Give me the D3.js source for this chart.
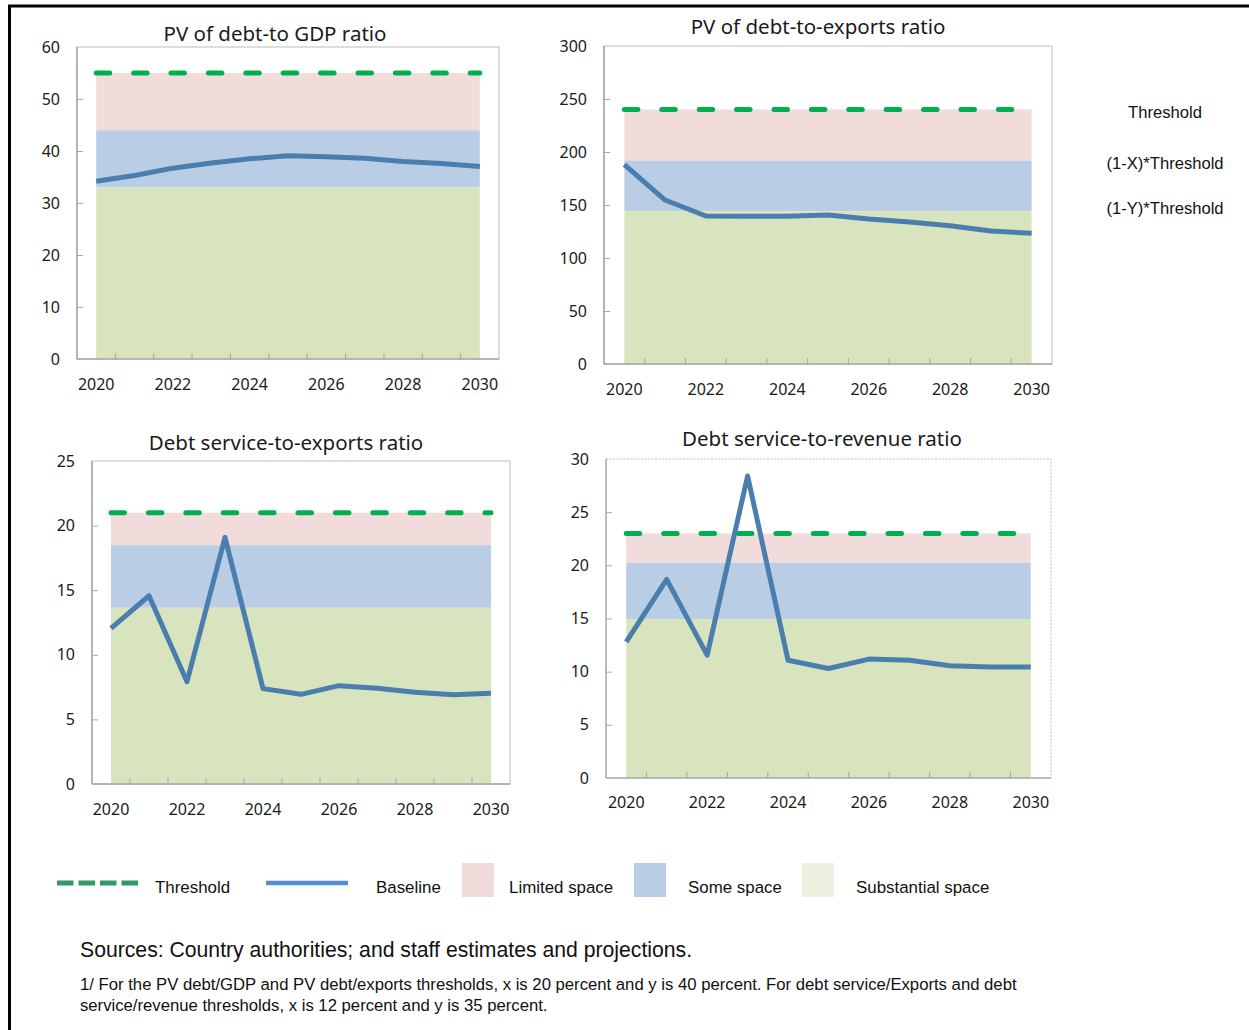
<!DOCTYPE html>
<html>
<head>
<meta charset="utf-8">
<script src="https://cdn.jsdelivr.net/npm/d3@7"></script>
<style>
  html, body { margin: 0; padding: 0; background: #fff; }
  svg { display: block; }
</style>
</head>
<body>
<svg id="chart" width="1249" height="1030"></svg>
<script>
// ---------------- DATA ----------------
const years = [2020, 2021, 2022, 2023, 2024, 2025, 2026, 2027, 2028, 2029, 2030];
const yearTicks = [2020, 2022, 2024, 2026, 2028, 2030];

const titles = [
  "PV of debt-to GDP ratio",
  "PV of debt-to-exports ratio",
  "Debt service-to-exports ratio",
  "Debt service-to-revenue ratio"
];

// Baselines
const pvGdpBaseline     = [34.2, 35.3, 36.7, 37.7, 38.5, 39.1, 38.9, 38.6, 38.0, 37.6, 37.0];
const pvExportsBaseline = [188, 154.7, 139.6, 139.5, 139.5, 140.6, 136.8, 134.0, 130.5, 125.5, 123.3];
const dsExportsBaseline = [12.05, 14.57, 7.92, 19.09, 7.38, 6.94, 7.61, 7.41, 7.10, 6.91, 7.02];
const dsRevenueBaseline = [12.8, 18.68, 11.55, 28.4, 11.08, 10.3, 11.18, 11.08, 10.55, 10.45, 10.45];

// Thresholds and band limits: [threshold, (1-X)*threshold, (1-Y)*threshold]
const pvGdpLimits     = [55, 44, 33];
const pvExportsLimits = [240, 192, 144];
const dsExportsLimits = [21, 18.48, 13.65];
const dsRevenueLimits = [23, 20.24, 14.95];

// Y axis ticks
const pvGdpTicks     = [0, 10, 20, 30, 40, 50, 60];
const pvExportsTicks = [0, 50, 100, 150, 200, 250, 300];
const dsExportsTicks = [0, 5, 10, 15, 20, 25];
const dsRevenueTicks = [0, 5, 10, 15, 20, 25, 30];

const sideLabels = ["Threshold", "(1-X)*Threshold", "(1-Y)*Threshold"];
const legendLabels = ["Threshold", "Baseline", "Limited space", "Some space", "Substantial space"];
const sourceText = "Sources: Country authorities; and staff estimates and projections.";
const noteLines = [
  "1/ For the PV debt/GDP and PV debt/exports thresholds, x is 20 percent and y is 40 percent. For debt service/Exports and debt",
  "service/revenue thresholds, x is 12 percent and y is 35 percent."
];

// ---------------- STYLE / LAYOUT ----------------
const C = {
  limited: "#f2dcdb",
  some: "#b9cde5",
  subst: "#d7e4bd",
  substLegend: "#ebf1de",
  threshold: "#00b050",
  baseline: "#4a7eae",
  legendThreshold: "#339966",
  legendBaseline: "#558ed5",
  axis: "#a6a6a6",
  border: "#c8c8c8"
};
const panelFont = "'Noto Sans', 'Open Sans', sans-serif";
const arialFont = "'Liberation Sans', Arial, sans-serif";

const panels = [
  { title: titles[0], base: pvGdpBaseline, lim: pvGdpLimits, ticks: pvGdpTicks,
    L: 77, R: 499, T: 47, B: 359, titleX: 275, titleY: 41, xLabY: 390, dotted: false },
  { title: titles[1], base: pvExportsBaseline, lim: pvExportsLimits, ticks: pvExportsTicks,
    L: 604, R: 1052, T: 46, B: 364, titleX: 818, titleY: 34, xLabY: 395, dotted: false },
  { title: titles[2], base: dsExportsBaseline, lim: dsExportsLimits, ticks: dsExportsTicks,
    L: 92, R: 510, T: 461, B: 784, titleX: 286, titleY: 450, xLabY: 815, dotted: false },
  { title: titles[3], base: dsRevenueBaseline, lim: dsRevenueLimits, ticks: dsRevenueTicks,
    L: 606, R: 1051, T: 459, B: 778, titleX: 822, titleY: 446, xLabY: 808, dotted: true }
];

const svg = d3.select("#chart");

// outer frame lines
svg.append("line").attr("x1", 8).attr("x2", 1249).attr("y1", 6).attr("y2", 6)
  .attr("stroke", "#000").attr("stroke-width", 3);
svg.append("line").attr("x1", 9.5).attr("x2", 9.5).attr("y1", 5).attr("y2", 1030)
  .attr("stroke", "#000").attr("stroke-width", 3);

panels.forEach(p => {
  const g = svg.append("g");
  const x = d3.scaleBand().domain(years).range([p.L, p.R]);
  const cx = d => x(d) + x.bandwidth() / 2;
  const ymax = p.ticks[p.ticks.length - 1];
  const y = d3.scaleLinear().domain([0, ymax]).range([p.B, p.T]);

  // border
  if (p.dotted) {
    g.append("path").attr("d", `M${p.L},${p.T}H${p.R}V${p.B}`)
      .attr("fill", "none").attr("stroke", "#bdbdbd").attr("stroke-width", 1)
      .attr("stroke-dasharray", "2,1.5");
  } else {
    g.append("rect").attr("x", p.L).attr("y", p.T).attr("width", p.R - p.L).attr("height", p.B - p.T)
      .attr("fill", "none").attr("stroke", C.border).attr("stroke-width", 1.2);
  }

  // bands
  const bands = [
    { lo: p.lim[1], hi: p.lim[0], c: C.limited },
    { lo: p.lim[2], hi: p.lim[1], c: C.some },
    { lo: 0, hi: p.lim[2], c: C.subst }
  ];
  bands.forEach(b => {
    g.append("path")
      .datum(years)
      .attr("fill", b.c)
      .attr("d", d3.area().x(d => cx(d)).y0(() => y(b.lo)).y1(() => y(b.hi)));
  });

  // threshold dashed
  g.append("path").datum(years)
    .attr("fill", "none").attr("stroke", C.threshold).attr("stroke-width", 5)
    .attr("stroke-linecap", "round").attr("stroke-dasharray", "13.5,23.9")
    .attr("d", d3.line().x(d => cx(d)).y(() => y(p.lim[0])));

  // axes
  const xAxis = d3.axisBottom(x).tickValues(yearTicks).tickSize(0).tickPadding(0);
  const xg = g.append("g").attr("transform", `translate(0,${p.B})`).call(xAxis);
  xg.select(".domain").remove();
  xg.selectAll("text").attr("y", p.xLabY - p.B).attr("dy", "0")
    .attr("font-family", panelFont).attr("font-size", 16).attr("fill", "#1a1a1a");

  // x tick marks at band boundaries
  g.append("g").selectAll("line").data(years.slice(1)).join("line")
    .attr("x1", d => x(d)).attr("x2", d => x(d))
    .attr("y1", p.B).attr("y2", p.B - 6)
    .attr("stroke", C.axis).attr("stroke-width", 1);

  const yAxis = d3.axisLeft(y).tickValues(p.ticks).tickSizeInner(-6).tickSizeOuter(0).tickPadding(17);
  const yg = g.append("g").attr("transform", `translate(${p.L},0)`).call(yAxis);
  yg.select(".domain").remove();
  yg.selectAll(".tick line").attr("stroke", C.axis);
  yg.selectAll(".tick").filter(d => d === 0 || d === ymax).select("line").remove();
  yg.selectAll("text").attr("font-family", panelFont).attr("font-size", 16).attr("fill", "#1a1a1a");

  // axis lines
  g.append("line").attr("x1", p.L).attr("x2", p.R).attr("y1", p.B).attr("y2", p.B)
    .attr("stroke", C.axis).attr("stroke-width", 1.5);
  g.append("line").attr("x1", p.L).attr("x2", p.L).attr("y1", p.T).attr("y2", p.B)
    .attr("stroke", C.axis).attr("stroke-width", 1.5);

  // baseline
  g.append("path").datum(p.base)
    .attr("fill", "none").attr("stroke", C.baseline).attr("stroke-width", 5)
    .attr("stroke-linejoin", "round")
    .attr("d", d3.line().x((d, i) => cx(years[i])).y(d => y(d)));

  // title
  g.append("text").attr("x", p.titleX).attr("y", p.titleY)
    .attr("text-anchor", "middle").attr("font-family", panelFont).attr("font-size", 20.5)
    .attr("fill", "#1a1a1a").text(p.title);
});

// side labels
const sideY = [118, 169, 214];
sideLabels.forEach((t, i) => {
  svg.append("text").attr("x", 1165).attr("y", sideY[i]).attr("text-anchor", "middle")
    .attr("font-family", arialFont).attr("font-size", 16.6).attr("fill", "#111").text(t);
});

// legend
const lg = svg.append("g");
lg.append("line").attr("x1", 57).attr("x2", 138).attr("y1", 883).attr("y2", 883)
  .attr("stroke", C.legendThreshold).attr("stroke-width", 5).attr("stroke-dasharray", "16.5,5");
lg.append("line").attr("x1", 266).attr("x2", 348).attr("y1", 883).attr("y2", 883)
  .attr("stroke", C.legendBaseline).attr("stroke-width", 4.5);
const sw = [{ x: 462, c: C.limited }, { x: 634, c: C.some }, { x: 802, c: C.substLegend }];
sw.forEach(s => lg.append("rect").attr("x", s.x).attr("y", 863).attr("width", 32).attr("height", 34).attr("fill", s.c));
const lx = [155, 376, 509, 688, 856];
legendLabels.forEach((t, i) => {
  lg.append("text").attr("x", lx[i]).attr("y", 893).attr("font-family", arialFont)
    .attr("font-size", 16.9).attr("fill", "#111").text(t);
});

// sources and notes
svg.append("text").attr("x", 80).attr("y", 957).attr("font-family", arialFont)
  .attr("font-size", 21.2).attr("fill", "#111").text(sourceText);
noteLines.forEach((t, i) => {
  svg.append("text").attr("x", 80).attr("y", 990 + i * 21).attr("font-family", arialFont)
    .attr("font-size", 16.7).attr("fill", "#111").text(t);
});
</script>
</body>
</html>
